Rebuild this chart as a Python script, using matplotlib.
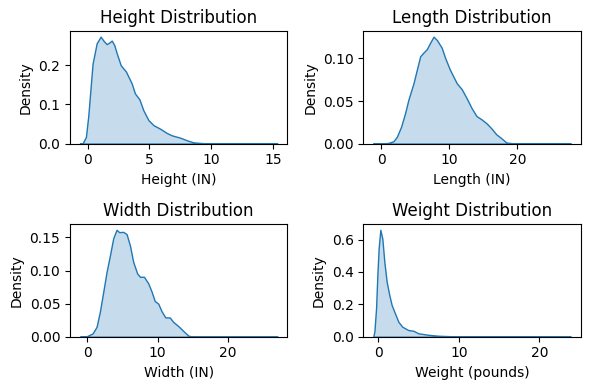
import matplotlib.pyplot as plt

# density curves (x, density)
height_x = [-0.63, -0.4, -0.14, 0.05, 0.4, 0.73, 1.05, 1.3, 1.54, 1.75, 1.95, 2.15, 2.35, 2.68, 3.1,
            3.56, 3.83, 4.19, 4.51, 4.92, 5.33, 5.87, 6.41, 6.82, 7.5, 8.03, 8.57, 9.65, 11.0, 15.36]
height_y = [0.0, 0.001, 0.017, 0.07, 0.204, 0.256, 0.273, 0.262, 0.254, 0.258, 0.263, 0.252, 0.231, 0.20, 0.184,
            0.154, 0.128, 0.113, 0.085, 0.06, 0.047, 0.038, 0.027, 0.021, 0.015, 0.0085, 0.003, 0.0005, 0.0001, 0.0]

length_x = [-1.15, -0.14, 1.07, 1.8, 2.3, 2.93, 3.52, 4.0, 4.76, 5.25, 5.74, 6.23, 6.72, 7.2, 7.7, 8.2,
            8.9, 9.4, 10.1, 11.1, 11.83, 12.56, 13.3, 14.0, 14.76, 15.5, 16.2, 16.9, 17.7, 18.4, 19.6, 27.85]
length_y = [0.0, 0.0, 0.0008, 0.0027, 0.0078, 0.0197, 0.0356, 0.0513, 0.071, 0.0869, 0.1026, 0.107, 0.111, 0.1185, 0.1256, 0.1216,
            0.1126, 0.1007, 0.0869, 0.071, 0.064, 0.0533, 0.0415, 0.0324, 0.0284, 0.0237, 0.0178, 0.011, 0.006, 0.0012, 0.0002, 0.0]

width_x = [-1.05, 0.0, 0.76, 1.33, 1.8, 2.28, 2.75, 3.23, 3.7, 4.17, 4.55, 5.12, 5.6, 6.07, 6.54, 7.1, 7.5,
           8.07, 8.68, 9.16, 9.6, 10.1, 10.56, 11.1, 11.75, 12.2, 12.96, 13.67, 14.4, 15.1, 27.05]
width_y = [0.0, 0.001, 0.005, 0.015, 0.038, 0.068, 0.098, 0.123, 0.149, 0.1616, 0.158, 0.1585, 0.155, 0.138, 0.113, 0.0957, 0.0906,
           0.0906, 0.0806, 0.068, 0.054, 0.050, 0.0388, 0.0293, 0.029, 0.0227, 0.016, 0.0086, 0.0015, 0.0, 0.0]

weight_x = [-0.63, -0.49, -0.28, -0.12, 0.04, 0.25, 0.5, 0.75, 1.04, 1.37, 1.66, 2.07, 2.49, 2.98, 3.73,
            4.35, 4.97, 6.2, 7.45, 9.1, 12.4, 23.9]
weight_y = [0.0, 0.031, 0.175, 0.379, 0.544, 0.66, 0.605, 0.461, 0.338, 0.256, 0.195, 0.144, 0.092, 0.0615, 0.041,
            0.037, 0.021, 0.012, 0.006, 0.003, 0.001, 0.0]

titles = ['Height Distribution', 'Length Distribution', 'Width Distribution', 'Weight Distribution']
xlabels = ['Height (IN)', 'Length (IN)', 'Width (IN)', 'Weight (pounds)']
curves = [(height_x, height_y), (length_x, length_y), (width_x, width_y), (weight_x, weight_y)]

color = '#1f77b4'
fig, axes = plt.subplots(2, 2, figsize=(5.89, 3.89), dpi=100)
for ax, (xs, ys), title, xlabel in zip(axes.flat, curves, titles, xlabels):
    ax.fill_between(xs, ys, facecolor=(0.1216, 0.4667, 0.7059, 0.25), edgecolor=color, linewidth=1)
    ax.set_title(title)
    ax.set_xlabel(xlabel)
    ax.set_ylabel('Density')
    ax.set_ylim(bottom=0)

fig.subplots_adjust(left=0.1188, right=0.9859, top=0.9195, bottom=0.1344, wspace=0.35, hspace=0.72)
fig.savefig('out.png', dpi=100)
